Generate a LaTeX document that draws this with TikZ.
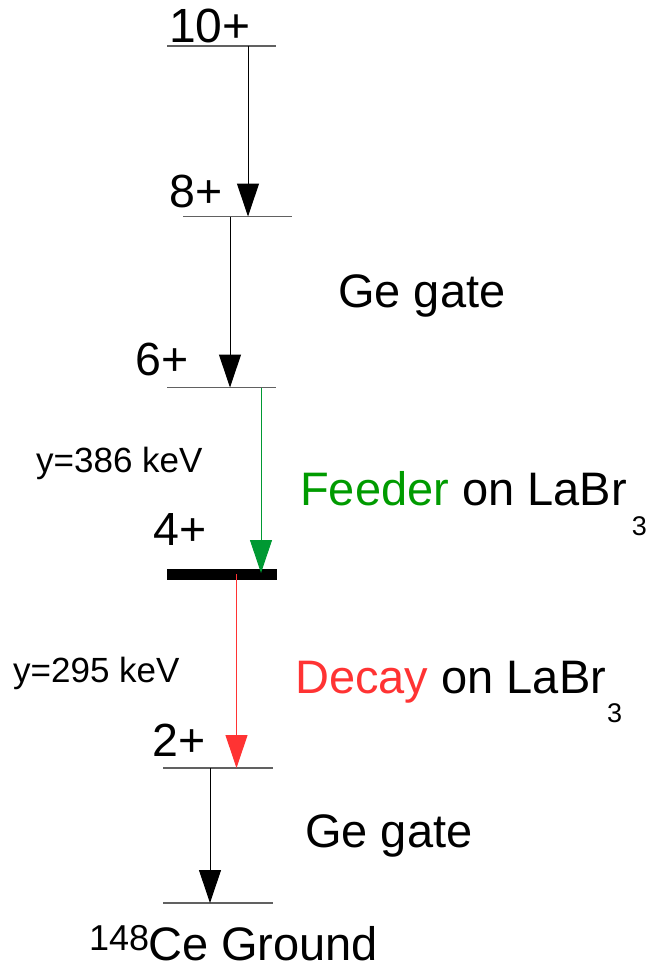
\documentclass[tikz,border=0pt]{standalone}
\usepackage{fontspec}
\setmainfont{Liberation Sans}
\usetikzlibrary{arrows.meta}
\definecolor{feedgreen}{RGB}{0,153,51}
\definecolor{feedtext}{RGB}{0,155,0}
\definecolor{decayred}{RGB}{255,51,51}
\begin{document}
\begin{tikzpicture}[x=1pt,y=-1pt,
  level/.style={draw=black!62,line width=1.5pt},
  trans/.style={line width=1pt,-{Triangle[width=22pt,length=33pt]}},
  lbl/.style={inner sep=0pt,anchor=base west},
  big/.style={font=\fontsize{47}{52}\selectfont},
  spin/.style={font=\fontsize{46.5}{52}\selectfont},
  small/.style={font=\fontsize{35}{40}\selectfont}]
\useasboundingbox (0,0) rectangle (650,964);
% level coordinates
\coordinate (L10a) at (167,46);   \coordinate (L10b) at (276,46);
\coordinate (L8a) at (183,216.5); \coordinate (L8b) at (292,216.5);
\coordinate (L6a) at (167,387.5); \coordinate (L6b) at (276,387.5);
\coordinate (L4a) at (167,574);   \coordinate (L4b) at (277,574);
\coordinate (L2a) at (163,768);   \coordinate (L2b) at (273,768);
\coordinate (L0a) at (163,903);   \coordinate (L0b) at (273,903);
% level lines
\draw[level] (L10a) -- (L10b);
\draw[level] (L8a) -- (L8b);
\draw[level] (L6a) -- (L6b);
\draw[line width=11pt,black] (L4a) -- (L4b);
\draw[level] (L2a) -- (L2b);
\draw[level] (L0a) -- (L0b);
% transition end points
\coordinate (t1s) at (248,46);  \coordinate (t1e) at (248,216.5);
\coordinate (t2s) at (230,216.5); \coordinate (t2e) at (230,387.5);
\coordinate (t3s) at (261,387.5); \coordinate (t3e) at (261,573);
\coordinate (t4s) at (236.5,574); \coordinate (t4e) at (236.5,768);
\coordinate (t5s) at (210,768); \coordinate (t5e) at (210,903);
% transitions
\draw[trans,black] (t1s) -- (t1e);
\draw[trans,black] (t2s) -- (t2e);
\draw[trans,feedgreen] (t3s) -- (t3e);
\draw[trans,decayred] (t4s) -- (t4e);
\draw[trans,black] (t5s) -- (t5e);
% spin labels
\node[lbl,font=\fontsize{48}{52}\selectfont] (s10) at (169,42) {10+};
\node[lbl,spin] (s8) at (169,207) {8+};
\node[lbl,spin] (s6) at (135,375) {6+};
\node[lbl,spin] (s4) at (153,545) {4+};
\node[lbl,spin] (s2) at (152,756) {2+};
\node[lbl,big] (gnd) at (89,960) {\raisebox{0pt}[\height][0pt]{{\fontsize{36}{36}\selectfont\raisebox{10pt}{148}}\hspace{-1pt}Ce Ground}};
% descriptive labels
\node[lbl,big] (gate1) at (338,307) {Ge gate};
\node[lbl,big] (gate2) at (305,847) {Ge gate};
\node[lbl,big] (feed) at (300,505) {\textcolor{feedtext}{Feeder} on LaBr\hspace{5pt}\raisebox{-30pt}{\fontsize{27}{27}\selectfont 3}};
\node[lbl,big] (decay) at (295,693) {\textcolor{decayred}{Decay} on LaBr\hspace{1pt}\raisebox{-29pt}{\fontsize{27}{27}\selectfont 3}};
\node[lbl,small] (e386) at (36,472) {y=386 keV};
\node[lbl,small] (e295) at (13,682) {y=295 keV};
\end{tikzpicture}
\end{document}
